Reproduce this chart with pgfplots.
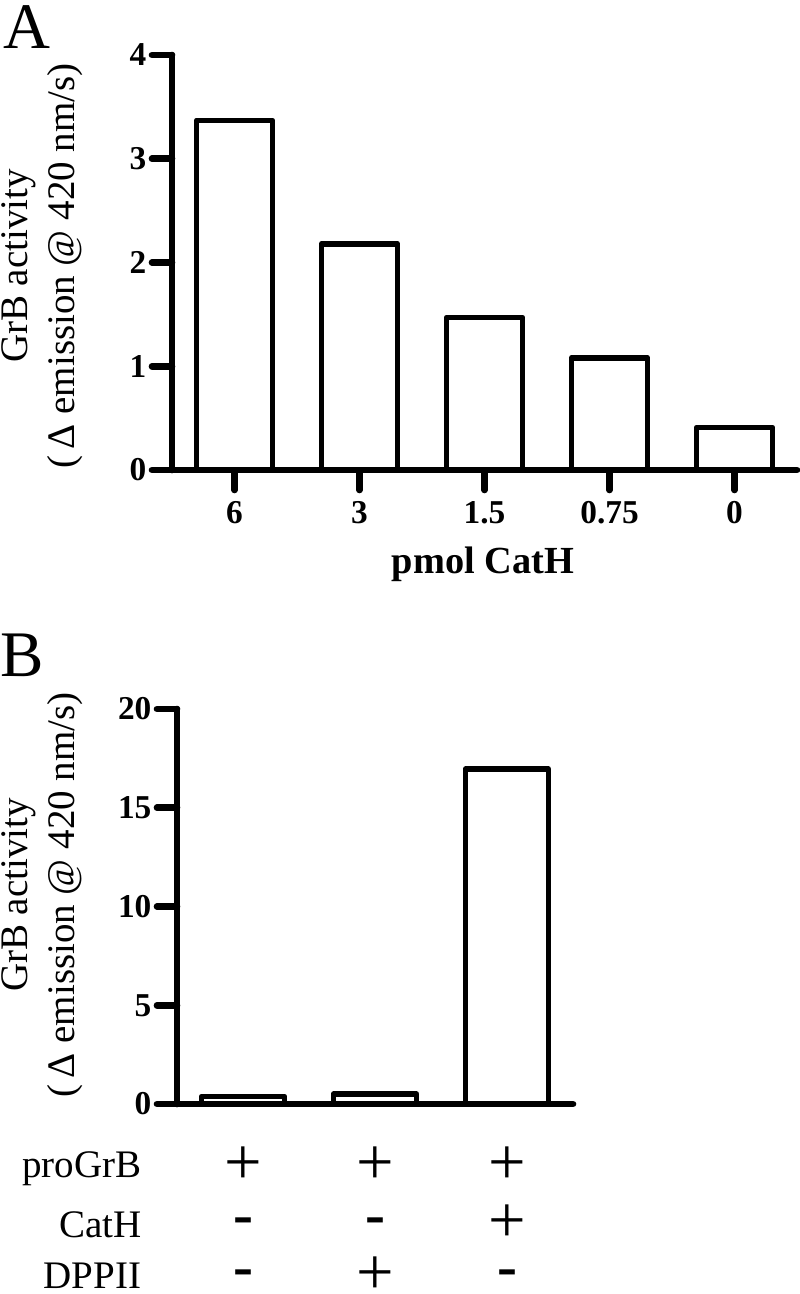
\documentclass[border=0pt]{standalone}
\usepackage{fontspec}
\setmainfont{Liberation Serif}
\usepackage{pgfplots}
\pgfplotsset{compat=1.18}
\pgfplotsset{
  prism/.style={
    scale only axis,
    axis lines*=left,
    axis line style={line width=2pt, line cap=round},
    tick align=outside,
    major tick length=6pt,
    tick style={black, line width=2pt, line cap=round},
    ticklabel style={font=\fontsize{10}{12}\selectfont\bfseries},
    yticklabel style={inner xsep=1.5pt},
    /pgf/number format/assume math mode=true,
    ybar, bar shift=0pt,
    enlargelimits=false,
    clip=false,
  },
}
\tikzset{
  pl/.style={font=\fontsize{20}{24}\selectfont, inner sep=0pt, anchor=center},
  mi/.style={font=\fontsize{18}{22}\selectfont\bfseries, inner sep=0pt, anchor=center},
}
\begin{document}
\begin{tikzpicture}
\useasboundingbox (0pt,0pt) rectangle (240pt,-388.2pt);

% Panel A
\begin{axis}[prism, at={(51.6pt,-141pt)}, anchor=south west,
  width=187.5pt, height=124.5pt,
  xmin=-0.5, xmax=4.5, ymin=0, ymax=4,
  ytick={0,1,2,3,4},
  xtick={0,1,2,3,4}, xticklabels={6,3,1.5,0.75,0},
  bar width=22.8pt]
\addplot[draw=black, fill=white, line width=1.7pt, line join=round]
  coordinates {(0,3.37) (1,2.18) (2,1.47) (3,1.08) (4,0.41)};
\end{axis}

% Panel B
\begin{axis}[prism, at={(53.1pt,-331.2pt)}, anchor=south west,
  width=118.8pt, height=118.5pt,
  xmin=-0.5, xmax=2.5, ymin=0, ymax=20,
  ytick={0,5,10,15,20},
  xtick=\empty,
  bar width=24.9pt]
\addplot[draw=black, fill=white, line width=1.7pt, line join=round]
  coordinates {(0,0.38) (1,0.5) (2,16.95)};
\node[pl, yshift=-18.6pt] at (axis cs:0,0) {+};
\node[pl, yshift=-18.6pt] at (axis cs:1,0) {+};
\node[pl, yshift=-18.6pt] at (axis cs:2,0) {+};
\node[mi, yshift=-36.6pt] at (axis cs:0,0) {-};
\node[mi, yshift=-36.6pt] at (axis cs:1,0) {-};
\node[pl, yshift=-36.0pt] at (axis cs:2,0) {+};
\node[mi, yshift=-52.2pt] at (axis cs:0,0) {-};
\node[pl, yshift=-51.4pt] at (axis cs:1,0) {+};
\node[mi, yshift=-52.2pt] at (axis cs:2,0) {-};
\end{axis}

% Panel letters
\node[font=\fontsize{19.5}{22}\selectfont, anchor=north west, inner sep=0pt] at (0.9pt,-1.5pt) {A};
\node[font=\fontsize{19.5}{22}\selectfont, anchor=north west, inner sep=0pt] at (0pt,-189.9pt) {B};

% y labels
\node[rotate=90, align=center, font=\fontsize{11.7}{14.1}\selectfont, inner sep=0pt]
  at (12.6pt,-79.8pt) {GrB activity\\(\,Δ emission @ 420 nm/s)};
\node[rotate=90, align=center, font=\fontsize{11.7}{14.1}\selectfont, inner sep=0pt]
  at (12.6pt,-268.5pt) {GrB activity\\(\,Δ emission @ 420 nm/s)};

% x label A
\node[font=\fontsize{11.5}{13}\selectfont\bfseries, anchor=base] at (144.9pt,-171.9pt) {pmol CatH};

% row labels B
\node[font=\fontsize{11.7}{14}\selectfont, anchor=base east, inner sep=0pt] at (42.6pt,-353.1pt) {proGrB};
\node[font=\fontsize{11.7}{14}\selectfont, anchor=base east, inner sep=0pt] at (42.6pt,-371.1pt) {CatH};
\node[font=\fontsize{11.7}{14}\selectfont, anchor=base east, inner sep=0pt] at (42.6pt,-386.4pt) {DPPII};
\end{tikzpicture}
\end{document}
